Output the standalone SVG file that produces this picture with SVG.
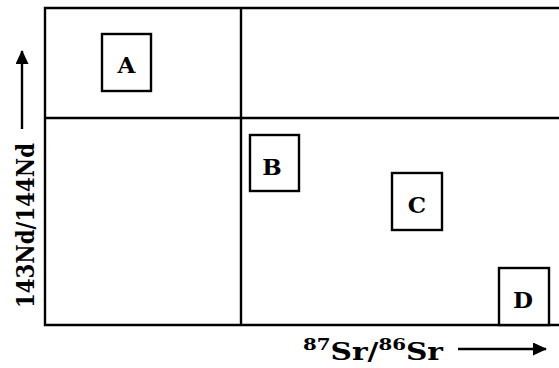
<svg xmlns="http://www.w3.org/2000/svg" width="559" height="368" viewBox="0 0 559 368">
<style>
.ln{stroke:#000;stroke-width:2.4;fill:none}
.box{stroke:#000;stroke-width:2.4;fill:#fff}
.lbl{font-family:"DejaVu Serif","Liberation Serif",serif;font-weight:bold;font-size:23px;fill:#000;text-anchor:middle}
.ax{font-family:"DejaVu Serif","Liberation Serif",serif;font-weight:bold;font-size:24px;fill:#000}
</style>
<defs>
<marker id="ah" markerWidth="14" markerHeight="13" refX="13" refY="6.5" orient="auto" markerUnits="userSpaceOnUse">
<path d="M0,0 L14,6.5 L0,13 Z" fill="#000"/>
</marker>
</defs>
<rect width="559" height="368" fill="#fff"/>
<g id="frame">
<path class="ln" d="M561,8 H45 V325 H561"/>
<path class="ln" d="M45,118 H561"/>
<path class="ln" d="M241,8 V325"/>
</g>
<g id="connectors">
<line class="ln" x1="22" y1="129" x2="22" y2="51" stroke-width="3" marker-end="url(#ah)"/>
<line class="ln" x1="458" y1="349" x2="546" y2="349" marker-end="url(#ah)"/>
</g>
<g id="nodeA"><rect class="box" x="102" y="34" width="49" height="57"/><text class="lbl" x="126.5" y="73">A</text></g>
<g id="nodeB"><rect class="box" x="250" y="135" width="49" height="56"/><text class="lbl" x="272" y="175">B</text></g>
<g id="nodeC"><rect class="box" x="392" y="173" width="50" height="57"/><text class="lbl" x="417" y="213">C</text></g>
<g id="nodeD"><rect class="box" x="499" y="268" width="50" height="57"/><text class="lbl" x="523" y="308">D</text></g>
<g id="ylabel">
<text class="ax" transform="translate(34,308) rotate(-90)" textLength="165" lengthAdjust="spacingAndGlyphs">143Nd/144Nd</text>
</g>
<g id="xlabel">
<text class="ax" x="303" y="360" textLength="140" lengthAdjust="spacingAndGlyphs"><tspan font-size="16" dy="-10">87</tspan><tspan dy="10">Sr/</tspan><tspan font-size="16" dy="-10">86</tspan><tspan dy="10">Sr</tspan></text>
</g>
</svg>
